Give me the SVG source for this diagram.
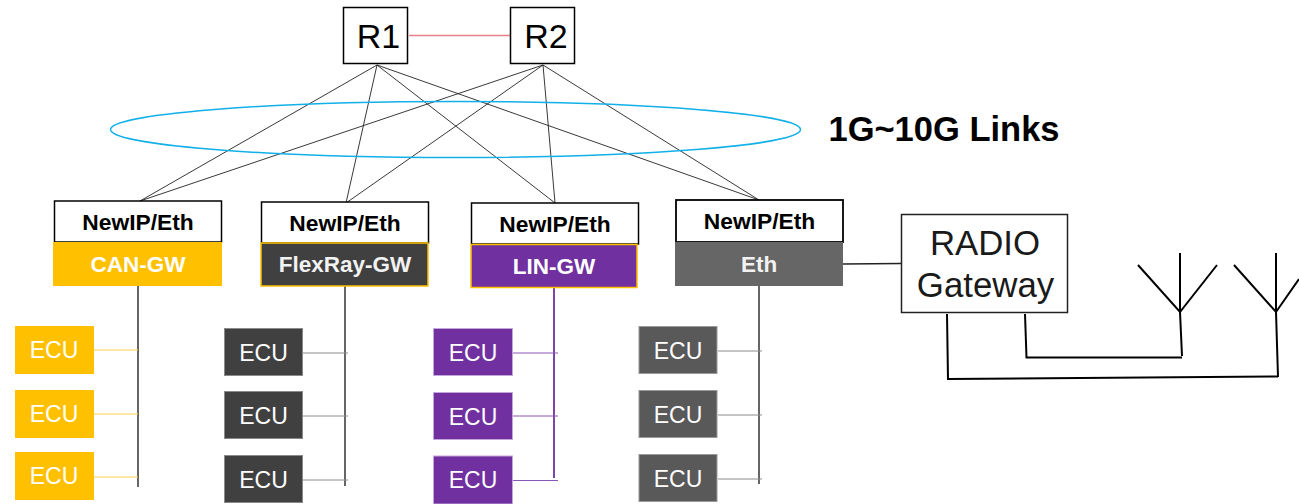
<svg xmlns="http://www.w3.org/2000/svg" width="1299" height="504" viewBox="0 0 1299 504">
<style>
text{font-family:"Liberation Sans",Arial,sans-serif;text-anchor:middle}
.box{fill:#fff;stroke:#000;stroke-width:1.5}
.r{font-size:34px;fill:#000}
.ne{font-size:22.800px;font-weight:700;fill:#000}
.gw{font-size:22.500px;font-weight:700;fill:#fff}
.ecu{font-size:23px;fill:#fff}
.rad{font-size:34.800px;fill:#1a1a1a}
.thin{fill:none;stroke:#222;stroke-width:.9}
.bus{fill:none;stroke:#555;stroke-width:1.800}
.blk{fill:none;stroke:#000;stroke-width:2}
</style>
<rect width="1299" height="504" fill="#fff"/>
<g id="connectors">
<path d="M409 35.500H511" fill="none" stroke="#e8808c" stroke-width="1.300"/>
<g class="thin">
<path d="M377 65L140 201M377 65L346 203M377 65L555 203M377 65L759 200"/>
<path d="M543 65L140 201M543 65L346 203M543 65L555 203M543 65L759 200"/>
</g>
<path class="bus" d="M138 286V487"/>
<path class="bus" d="M345 286V486"/>
<path class="bus" d="M554 288V478" style="stroke:#7030a0"/>
<path class="bus" d="M759 286V484"/>
<g fill="none" stroke-width="1">
<path d="M94 350H138M94 414H138M94 477H138" stroke="#ffd04d"/>
<path d="M303 353H348M303 416H348M303 480H348" stroke="#8c8c8c"/>
<path d="M513 353H558M513 416H558M513 480.500H558" stroke="#8a55b5"/>
<path d="M718 351H762M718 415H762M718 479H762" stroke="#8c8c8c"/>
</g>
<path d="M843 264L901 263.500" fill="none" stroke="#222" stroke-width="1.500"/>
<path class="blk" d="M1025 314L1026.500 357.500H1182M947 314L948 379L1278 376.500"/>
<path class="blk" d="M1180 253V312L1182 356M1138 265L1180 312L1217 265"/>
<path class="blk" d="M1276 253V312L1278 377M1234 265L1276 312L1299 279"/>
</g>
<ellipse id="links-ring" cx="455.500" cy="129.500" rx="345" ry="28" fill="none" stroke="#12b0e8" stroke-width="1.500"/>
<text id="links-label" x="944" y="141" font-size="34.500" font-weight="700" fill="#000">1G~10G Links</text>
<g id="r1"><rect class="box" x="343.500" y="7.500" width="64" height="56"/><text class="r" x="378.500" y="47.500">R1</text></g>
<g id="r2"><rect class="box" x="510.500" y="7.500" width="64" height="56"/><text class="r" x="546" y="47.500">R2</text></g>
<g id="can-gw">
<rect class="box" x="54.500" y="201" width="167" height="41"/><text class="ne" x="138" y="230">NewIP/Eth</text>
<rect x="53" y="242" width="169" height="44" fill="#ffc000"/><text class="gw" x="138" y="272">CAN-GW</text>
</g>
<g id="flexray-gw">
<rect class="box" x="261.500" y="202" width="167" height="41"/><text class="ne" x="345" y="230.500">NewIP/Eth</text>
<rect x="261" y="243" width="167" height="43" fill="#404040" stroke="#ffc000" stroke-width="1.500"/><text class="gw" x="345" y="272" style="fill:#f2f2f2">FlexRay-GW</text>
</g>
<g id="lin-gw">
<rect class="box" x="471.500" y="203" width="167" height="41"/><text class="ne" x="555" y="231.500">NewIP/Eth</text>
<rect x="471" y="244.500" width="166" height="43" fill="#7030a0" stroke="#ffc000" stroke-width="1.500"/><text class="gw" x="554" y="273.500">LIN-GW</text>
</g>
<g id="eth">
<rect class="box" x="676" y="200" width="167" height="42" style="stroke-width:1.800"/><text class="ne" x="759.500" y="228.500">NewIP/Eth</text>
<rect x="675" y="242" width="168" height="44" fill="#666"/><text class="gw" x="759" y="272" style="fill:#f2f2f2">Eth</text>
</g>
<g id="radio-gateway">
<rect x="901.500" y="214.500" width="166" height="98" fill="#fff" stroke="#222" stroke-width="1.500"/>
<text class="rad" x="985" y="255">RADIO</text><text class="rad" x="985.500" y="297">Gateway</text>
</g>
<g id="ecu-can">
<g><rect x="15" y="326" width="79" height="48" fill="#ffc000"/><text class="ecu" x="54" y="358">ECU</text></g>
<g><rect x="15" y="390" width="79" height="48" fill="#ffc000"/><text class="ecu" x="54" y="421.500">ECU</text></g>
<g><rect x="15" y="452" width="79" height="48" fill="#ffc000"/><text class="ecu" x="54" y="484">ECU</text></g>
</g>
<g id="ecu-flexray" fill="#404040" stroke="#8a8a8a">
<g><rect x="224.500" y="328.500" width="78" height="47"/><text class="ecu" stroke="none" x="263.500" y="361">ECU</text></g>
<g><rect x="224.500" y="391.500" width="78" height="47"/><text class="ecu" stroke="none" x="263.500" y="424">ECU</text></g>
<g><rect x="224.500" y="455.500" width="78" height="47"/><text class="ecu" stroke="none" x="263.500" y="487.500">ECU</text></g>
</g>
<g id="ecu-lin" fill="#7030a0" stroke="#c5a6dc">
<g><rect x="433.500" y="328.500" width="79" height="47"/><text class="ecu" stroke="none" x="473" y="361">ECU</text></g>
<g><rect x="433.500" y="392.500" width="79" height="47"/><text class="ecu" stroke="none" x="473" y="424.500">ECU</text></g>
<g><rect x="433.500" y="456" width="79" height="48"/><text class="ecu" stroke="none" x="473" y="488">ECU</text></g>
</g>
<g id="ecu-eth" fill="#595959" stroke="#999">
<g><rect x="639" y="326.500" width="78" height="47"/><text class="ecu" stroke="none" x="678" y="359">ECU</text></g>
<g><rect x="639" y="390.500" width="78" height="47"/><text class="ecu" stroke="none" x="678" y="422.500">ECU</text></g>
<g><rect x="639" y="454.500" width="78" height="47"/><text class="ecu" stroke="none" x="678" y="486.500">ECU</text></g>
</g>
</svg>
